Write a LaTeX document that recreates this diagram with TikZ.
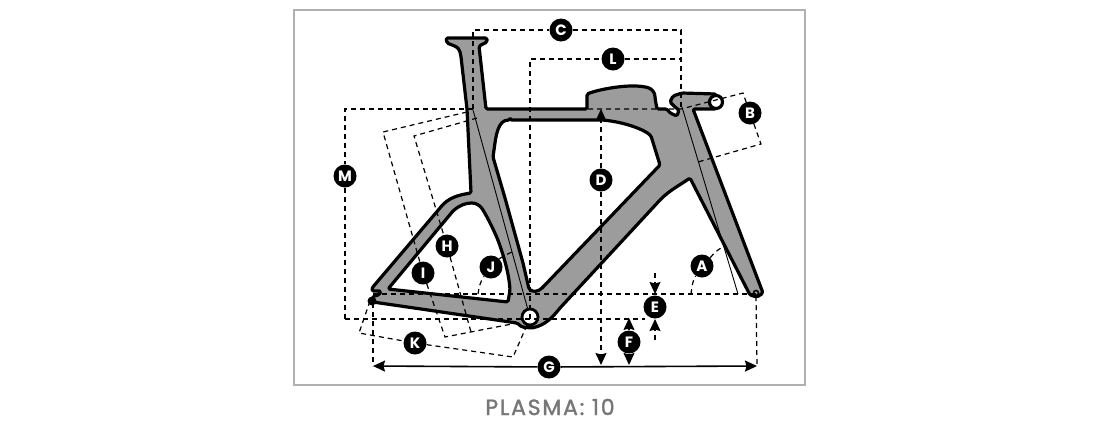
\documentclass[tikz,border=0pt]{standalone}
\usepackage{fontspec}
\setmainfont{Poppins}
\newfontfamily\titlefont[FakeBold=1.5,LetterSpace=8]{Poppins}
\usetikzlibrary{arrows.meta}
\definecolor{boxgray}{HTML}{B0B0B0}
\definecolor{bikegray}{HTML}{9C9C9C}
\definecolor{titlegray}{HTML}{777777}

\begin{document}
\begin{tikzpicture}
  [x=1pt,y=-1pt,
   badge/.style={circle,fill=black,text=white,inner sep=0pt,minimum size=23pt,font=\fontsize{15}{15}\selectfont\bfseries},
   dim/.style={dashed,line width=1.2pt,dash pattern=on 5pt off 4pt},
   tip/.style={-{Stealth[length=12pt,width=11pt,inset=1.5pt]}},
   bike/.style={line width=3.2pt,line join=round,draw=black},
   thinline/.style={line width=.9pt}]
  \useasboundingbox (0,0) rectangle (1107,432);
  \node (box) [draw=boxgray,line width=2pt,minimum width=511pt,minimum height=375pt,inner sep=0pt] at (549.5,197.5) {};
  \node (title) [text=titlegray,inner sep=0pt,font=\fontsize{22}{22}\titlefont] at (550,407) {PLASMA: 10};

  % frame
  \draw[bike,fill=bikegray,even odd rule,rounded corners=1.5pt]
    (446,38) -- (487,38) -- (487,42) -- (479,46) -- (486,109) -- (587,109) -- (587,94)
    .. controls (600,89) and (628,84) .. (645,87) .. controls (652,88) and (655,93) .. (655,98) -- (657,109)
    -- (667,109) -- (670,113) -- (677,116) -- (679,110) -- (675,107) -- (670,102) -- (673,96) -- (682,93)
    -- (716,94) -- (716,109) -- (693,109) -- (763,293) -- (757,297) -- (750,295) -- (690,178)
    .. controls (680,185) and (670,190) .. (660,200) -- (560,308)
    .. controls (552,318) and (545,325) .. (532,328) -- (522,327) -- (517,323) -- (373,302)
    -- (373,296) -- (379,295) -- (381,291) -- (372,291) -- (372,288) -- (440,208)
    .. controls (448,198) and (458,195) .. (471,193) -- (467,109) -- (461,57)
    .. controls (460,50) and (458,47) .. (452,45) -- (447,43) -- cycle
    (510,120) -- (602,120) .. controls (625,122) and (645,130) .. (651,136) -- (660,165)
    -- (543,287) .. controls (538,292) and (533,292) .. (529,289) -- (523,263) -- (505,198) -- (493,157) -- (494,150)
    .. controls (496,135) and (498,120) .. (510,120) -- cycle
    (388,289) -- (453,211) .. controls (460,205) and (466,203) .. (473,203) .. controls (478,204) and (481,207) .. (483,210)
    .. controls (490,222) and (496,235) .. (499,243) .. controls (505,260) and (509,275) .. (510,290) -- (508,302) -- cycle;
  \fill (372,301) circle (4.5pt);
  \draw[line width=1.6pt] (756,293) circle (2.5pt);

  % thin lines inside the tubes
  \coordinate (seatTop) at (473,110);
  \coordinate (seatEnd) at (528,310);
  \coordinate (headTop) at (682,107);
  \coordinate (headEnd) at (738,294);
  \draw[thinline] (seatTop) -- (seatEnd);
  \draw[thinline] (headTop) -- (headEnd);

  \node (bb) [circle,draw=black,fill=white,line width=2.8pt,minimum size=16pt,inner sep=0pt] at (530,317) {};
  \node (bar) [circle,draw=black,fill=white,line width=3.2pt,minimum size=13pt,inner sep=0pt] at (716,102) {};

  % letters
  \node[badge] (nA) at (702,266) {A};
  \node[badge] (nB) at (750,113) {B};
  \node[badge] (nC) at (561,30) {C};
  \node[badge] (nD) at (601,180) {D};
  \node[badge] (nE) at (655,307) {E};
  \node[badge] (nF) at (629,342) {F};
  \node[badge] (nG) at (549,367) {G};
  \node[badge] (nH) at (447,246) {H};
  \node[badge] (nI) at (423,273) {I};
  \node[badge] (nJ) at (491,267) {J};
  \node[badge] (nK) at (415,343) {K};
  \node[badge] (nL) at (613,59) {L};
  \node[badge] (nM) at (345,176) {M};

  \coordinate (cLeft) at (473,30);
  \coordinate (cRight) at (681,30);
  \coordinate (cFoot) at (473,109);
  \coordinate (lRight) at (681,59);
  \coordinate (lLeft) at (530,59);
  \coordinate (lFoot) at (530,319);
  \coordinate (stem) at (681,109);
  \coordinate (boxLeft) at (588,109);
  \coordinate (mTop) at (345,109);
  \coordinate (mBot) at (345,319);
  \coordinate (mEnd) at (645,319);
  \coordinate (dropY) at (373,294);
  \coordinate (forkY) at (756,294);
  \coordinate (forkTip) at (756,296);
  \coordinate (dropTip) at (373,303);
  \coordinate (gLeft) at (373,366);
  \coordinate (gRight) at (757,366);
  \coordinate (bOne) at (743,93);
  \coordinate (bTwo) at (761,144);
  \coordinate (bThree) at (698,162);
  \coordinate (iTop) at (467,112);
  \coordinate (iCorner) at (383,132);
  \coordinate (iBot) at (445,337);
  \coordinate (hTop) at (477,118);
  \coordinate (hCorner) at (414,136);
  \coordinate (hBot) at (471,332);
  \coordinate (bbFoot) at (517,323);
  \coordinate (kTop) at (370,301);
  \coordinate (kCorner) at (359,333);
  \coordinate (kBot) at (513,357);
  \coordinate (kEnd) at (527,325);
  \coordinate (aBot) at (691,294);
  \coordinate (aTop) at (723,247);
  \coordinate (jBot) at (478,294);
  \coordinate (jTop) at (512,252);

  \draw[dim] (mBot) -- (mEnd);
  \draw[dim] (cFoot) -- (cLeft) -- (nC) -- (cRight) -- (stem);
  \draw[dim] (lFoot) -- (lLeft) -- (nL) -- (lRight);
  \draw[dim] (cFoot) -- (mTop) -- (nM) -- (mBot);
  \draw[dim] (boxLeft) -- (stem) -- (bOne) -- (nB) -- (bTwo) -- (bThree);
  \draw[dim] (dropY) -- (forkY);
  \draw[dim] (forkTip) -- (gRight);
  \draw[dim] (dropTip) -- (gLeft);
  \draw[dim] (iTop) -- (iCorner) -- (nI) -- (iBot) -- (bbFoot);
  \draw[dim] (hTop) -- (hCorner) -- (nH) -- (hBot);
  \draw[dim] (kTop) -- (kCorner) -- (nK) -- (kBot) -- (kEnd);
  \draw[dim] (aBot) .. controls (692,285) and (693,280) .. (nA);
  \draw[dim] (nA) .. controls (710,258) and (716,250) .. (aTop);
  \draw[dim] (jBot) .. controls (479,287) and (480,282) .. (nJ);
  \draw[dim] (nJ) .. controls (499,259) and (505,255) .. (jTop);

  % arrows
  \coordinate (dUp) at (601,109);
  \coordinate (dDown) at (601,365);
  \coordinate (eTop) at (655,273);
  \coordinate (eUp) at (655,294);
  \coordinate (eBot) at (655,340);
  \coordinate (eDown) at (655,319);
  \coordinate (fUp) at (629,318);
  \coordinate (fDown) at (629,365);
  \draw[dim,tip] (nD) -- (dUp);
  \draw[dim,tip] (nD) -- (dDown);
  \draw[dim,tip] (eTop) -- (eUp);
  \draw[dim,tip] (eBot) -- (eDown);
  \draw[line width=1.3pt,tip] (nF) -- (fUp);
  \draw[line width=1.3pt,tip] (nF) -- (fDown);
  \draw[line width=1.6pt,tip] (nG) -- (gLeft);
  \draw[line width=1.6pt,tip] (nG) -- (gRight);
\end{tikzpicture}
\end{document}
